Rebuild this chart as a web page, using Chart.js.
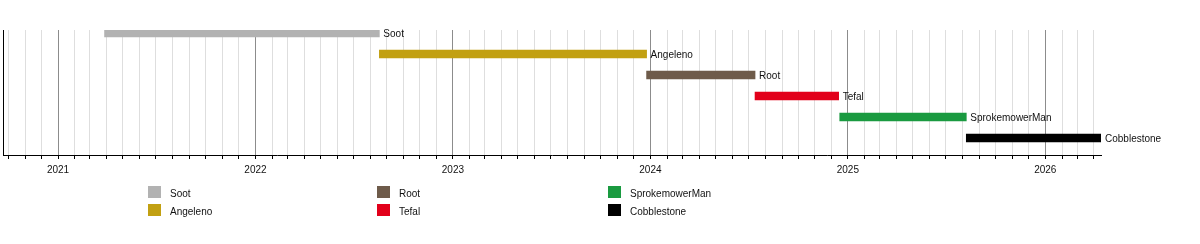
<!DOCTYPE html>
<html>
<head>
<meta charset="utf-8">
<script src="https://cdn.jsdelivr.net/npm/chart.js@4"></script>
<style>
html,body{margin:0;padding:0;background:#fff;}
#wrap{width:1200px;height:244px;position:relative;}
</style>
</head>
<body>
<div id="wrap"><canvas id="c" width="1200" height="244"></canvas></div>
<script>
const names = ['Soot','Angeleno','Root','Tefal','SprokemowerMan','Cobblestone'];
const starts = ['2021-03-28','2022-08-18','2023-12-25','2024-07-13','2024-12-17','2025-08-08'];
const ends = ['2022-08-18','2023-12-25','2024-07-13','2024-12-15','2025-08-08','2026-04-14'];
const rows = [0,1,2,3,4,5];
const colors = ['#b2b2b2','#c2a012','#6e5b4a','#e2001a','#1a9a40','#000000'];
const axisStart = '2020-09-21';
const axisEnd = '2026-04-14';

function toYear(s){
  const [y,m,d] = s.split('-').map(Number);
  const t0 = Date.UTC(y,0,1), t1 = Date.UTC(y+1,0,1);
  return y + (Date.UTC(y,m-1,d)-t0)/(t1-t0);
}

const datasets = names.map((n,i)=>({
  label:n,
  data:[{x:[toYear(starts[i]),toYear(ends[i])], y:rows[i]}],
  backgroundColor:colors[i],
  borderWidth:0,
  borderSkipped:false,
  barThickness:8,
  grouped:false
}));

const FONT = '10px "Liberation Sans", Arial, sans-serif';

const barLabels = {
  id:'barLabels',
  afterDatasetsDraw(chart){
    const ctx = chart.ctx;
    ctx.save();
    ctx.font = FONT;
    ctx.fillStyle = '#111';
    ctx.textBaseline = 'middle';
    ctx.textAlign = 'left';
    chart.data.datasets.forEach((ds,i)=>{
      const el = chart.getDatasetMeta(i).data[0];
      const xr = Math.max(el.x, el.base);
      ctx.fillText(ds.label, xr + 4, el.y + 1.5);
    });
    ctx.restore();
  }
};

const legendPlugin = {
  id:'gridLegend',
  afterDraw(chart){
    const ctx = chart.ctx;
    const colX = [148, 377, 608];
    const rowY = [186, 204];
    ctx.save();
    ctx.font = FONT;
    ctx.textBaseline = 'middle';
    ctx.textAlign = 'left';
    chart.data.datasets.forEach((ds,i)=>{
      const cx = colX[Math.floor(i/2)], cy = rowY[i%2];
      ctx.fillStyle = ds.backgroundColor;
      ctx.fillRect(cx, cy, 13, 12);
      ctx.fillStyle = '#111';
      ctx.fillText(ds.label, cx + 22, cy + 8);
    });
    ctx.restore();
  }
};

new Chart(document.getElementById('c'), {
  type:'bar',
  data:{datasets},
  options:{
    indexAxis:'y',
    responsive:false,
    animation:false,
    layout:{padding:{left:3,top:30,right:99,bottom:59}},
    plugins:{legend:{display:false},tooltip:{enabled:false}},
    scales:{
      x:{
        type:'linear',
        position:'bottom',
        offset:false,
        min:toYear(axisStart),
        max:toYear(axisEnd),
        afterBuildTicks(scale){
          const t = [];
          const s = new Date(axisStart);
          let y = s.getUTCFullYear(), m = s.getUTCMonth()+1;
          while (true){
            if (m>11){m=0;y++;}
            const ds = y+'-'+String(m+1).padStart(2,'0')+'-01';
            if (toYear(ds) > toYear(axisEnd)) break;
            t.push({value:toYear(ds), yr: m===0 ? y : null});
            m++;
          }
          scale.ticks = t;
        },
        afterFit(scale){ scale.height = 30; },
        ticks:{
          autoSkip:false,
          maxRotation:0,
          padding:5,
          color:'#111',
          font:{family:'"Liberation Sans", Arial, sans-serif', size:10},
          callback(v, i, ticks){ return ticks[i].yr ? String(ticks[i].yr) : ''; }
        },
        grid:{
          offset:false,
          color(ctx){ return (ctx.tick && ctx.tick.yr) ? '#8c8c8c' : '#dedede'; },
          lineWidth:1,
          drawTicks:true,
          tickLength:4,
          tickColor:'#000'
        },
        border:{display:true,color:'#000',width:1}
      },
      y:{
        type:'linear',
        reverse:true,
        offset:false,
        min:-0.143,
        max:5.81,
        afterFit(scale){ scale.width = 0; },
        ticks:{display:false},
        grid:{display:true,offset:false,color:'transparent',drawTicks:false},
        border:{display:true,color:'#000',width:1}
      }
    }
  },
  plugins:[barLabels, legendPlugin]
});
</script>
</body>
</html>
